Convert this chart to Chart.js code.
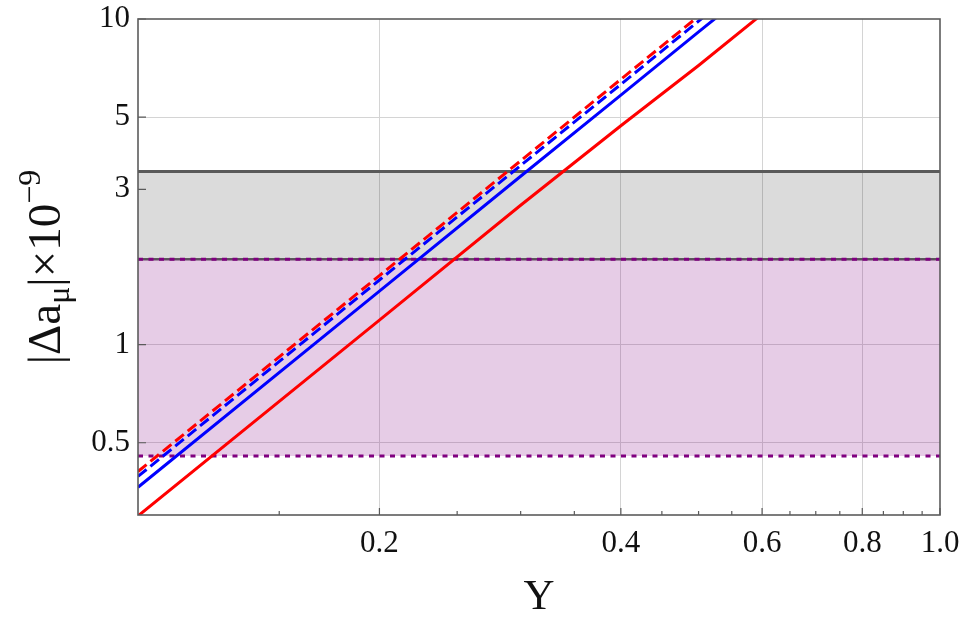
<!DOCTYPE html>
<html>
<head>
<meta charset="utf-8">
<script src="https://cdn.jsdelivr.net/npm/chart.js@4/dist/chart.umd.min.js"></script>
<style>
  html, body { margin: 0; padding: 0; background: #ffffff; }
  #wrap { width: 971px; height: 619px; }
</style>
</head>
<body>
<div id="wrap"><canvas id="c" width="971" height="619"></canvas></div>
<script>
// Coupling values Y at which each curve is sampled
const yCoupling = [0.1, 0.2, 0.3, 0.4, 0.5, 0.6];
// |Δa_μ| × 10^-9 for the four curves
const redSolid   = [0.298, 1.19, 2.68, 4.70, 7.20, 10.35];
const blueSolid  = [0.365, 1.46, 3.29, 5.84, 9.13, 13.1];
const blueDashed = [0.394, 1.58, 3.55, 6.30, 9.85, 14.2];
const redDashed  = [0.408, 1.63, 3.67, 6.53, 10.2, 14.7];

// Horizontal bands (span the full Y range)
const bandSpan = [0.1, 1.0];
const grayUpper = 3.40;
const bandEdge = 1.83;
const purpleLower = 0.455;

// Axis ticks
const xMajorTicks = [0.2, 0.4, 0.6, 0.8, 1.0];
const xTickLabels = ['0.2', '0.4', '0.6', '0.8', '1.0'];
const xMinorTicks = [0.15, 0.25, 0.3, 0.35, 0.45, 0.5, 0.55, 0.65, 0.7, 0.75, 0.85, 0.9, 0.95];
const xGridAt = [0.2, 0.4, 0.6, 0.8];
const yTicks = [0.5, 1, 3, 5, 10];
const yTickLabels = ['0.5', '1', '3', '5', '10'];
const yGridAt = [0.5, 1, 5];

const SERIF = "'Liberation Serif', 'DejaVu Serif', serif";

function pts(xs, ys) { return xs.map((x, i) => ({ x: x, y: ys[i] })); }
function flat(v) { return bandSpan.map(x => ({ x: x, y: v })); }

const curve = (data, color, dash, order) => ({
  data: data, borderColor: color, borderWidth: 3, borderDash: dash,
  pointRadius: 0, fill: false, tension: 0, order: order
});

// Frame, inward tick marks and the rotated y title with sub/superscripts
const decorations = {
  id: 'decorations',
  afterDatasetsDraw(chart) {
    const { ctx, chartArea: a, scales } = chart;
    const xs = scales.x, ys = scales.y;
    ctx.save();
    ctx.strokeStyle = '#5a5a5a';
    ctx.lineWidth = 1.2;
    ctx.beginPath();
    xMajorTicks.forEach(v => { const p = xs.getPixelForValue(v); ctx.moveTo(p, a.bottom); ctx.lineTo(p, a.bottom - 7); });
    xMinorTicks.forEach(v => { const p = xs.getPixelForValue(v); ctx.moveTo(p, a.bottom); ctx.lineTo(p, a.bottom - 4); });
    yTicks.forEach(v => { const p = ys.getPixelForValue(v); ctx.moveTo(a.left, p); ctx.lineTo(a.left + 8, p); });
    ctx.stroke();
    ctx.lineWidth = 1.6;
    ctx.strokeStyle = '#5c5c5c';
    ctx.strokeRect(a.left, a.top, a.right - a.left, a.bottom - a.top);
    ctx.restore();
  },
  afterDraw(chart) {
    const { ctx } = chart;
    const size = 47;
    const parts = [
      { t: '|\u0394a', k: 'n' },
      { t: '\u03bc', k: 'sub' },
      { t: '|\u00d710', k: 'n' },
      { t: '\u22129', k: 'sup' }
    ];
    const fontFor = k => (k === 'n' ? size : Math.round(size * 0.68)) + 'px ' + SERIF;
    ctx.save();
    ctx.fillStyle = '#111111';
    ctx.textBaseline = 'alphabetic';
    let total = 0;
    parts.forEach(p => { ctx.font = fontFor(p.k); p.w = ctx.measureText(p.t).width; total += p.w; });
    ctx.translate(60, 267);
    ctx.rotate(-Math.PI / 2);
    let x = -total / 2;
    parts.forEach(p => {
      ctx.font = fontFor(p.k);
      const dy = p.k === 'sub' ? size * 0.2 : (p.k === 'sup' ? -size * 0.42 : 0);
      ctx.fillText(p.t, x, dy);
      x += p.w;
    });
    ctx.restore();
  }
};

new Chart(document.getElementById('c'), {
  type: 'line',
  data: {
    datasets: [
      { data: flat(grayUpper), borderColor: '#5a5a5a', borderWidth: 3, pointRadius: 0,
        fill: { target: 1 }, backgroundColor: 'rgba(0,0,0,0.14)', order: 10 },
      { data: flat(bandEdge), borderColor: '#5a5a5a', borderWidth: 2.5, pointRadius: 0,
        fill: false, order: 9 },
      { data: flat(bandEdge), borderColor: '#800080', borderWidth: 3, borderDash: [5, 5.5], pointRadius: 0,
        fill: { target: 3 }, backgroundColor: 'rgba(128,0,128,0.2)', order: 8 },
      { data: flat(purpleLower), borderColor: '#800080', borderWidth: 3, borderDash: [5, 5.5], pointRadius: 0,
        fill: false, order: 7 },
      curve(pts(yCoupling, redSolid), '#ff0000', [], 4),
      curve(pts(yCoupling, blueSolid), '#0000ff', [], 3),
      curve(pts(yCoupling, blueDashed), '#0000ff', [11, 5], 2),
      curve(pts(yCoupling, redDashed), '#ff0000', [11, 5], 1)
    ]
  },
  options: {
    responsive: false,
    animation: false,
    layout: { padding: { top: 19, right: 31, left: 0, bottom: 0 } },
    plugins: { legend: { display: false }, tooltip: { enabled: false } },
    scales: {
      x: {
        type: 'logarithmic', min: 0.1, max: 1.0,
        afterBuildTicks: s => { s.ticks = xMajorTicks.concat(xMinorTicks).sort((a, b) => a - b).map(v => ({ value: v })); },
        afterFit: s => { s.height = 104; s.paddingLeft = 0; s.paddingRight = 0; },
        ticks: {
          autoSkip: false, maxRotation: 0, minRotation: 0, padding: 10, color: '#111111',
          font: { family: SERIF, size: 31 },
          callback: v => { const i = xMajorTicks.indexOf(v); return i >= 0 ? xTickLabels[i] : ''; }
        },
        grid: {
          drawTicks: false, lineWidth: 1,
          color: c => (c.tick && xGridAt.includes(c.tick.value)) ? '#d4d4d4' : 'rgba(0,0,0,0)'
        },
        border: { display: false },
        title: { display: true, text: 'Y', color: '#111111', padding: 0,
          font: { family: SERIF, size: 43, lineHeight: 1 } }
      },
      y: {
        type: 'logarithmic', min: 0.3, max: 10,
        afterBuildTicks: s => { s.ticks = yTicks.map(v => ({ value: v })); },
        afterFit: s => { s.width = 138; s.paddingTop = 0; s.paddingBottom = 0; },
        ticks: {
          autoSkip: false, padding: 8, color: '#111111',
          font: { family: SERIF, size: 31 },
          callback: v => { const i = yTicks.indexOf(v); return i >= 0 ? yTickLabels[i] : ''; }
        },
        grid: {
          drawTicks: false, lineWidth: 1,
          color: c => (c.tick && yGridAt.includes(c.tick.value)) ? '#d4d4d4' : 'rgba(0,0,0,0)'
        },
        border: { display: false }
      }
    }
  },
  plugins: [decorations]
});
</script>
</body>
</html>
